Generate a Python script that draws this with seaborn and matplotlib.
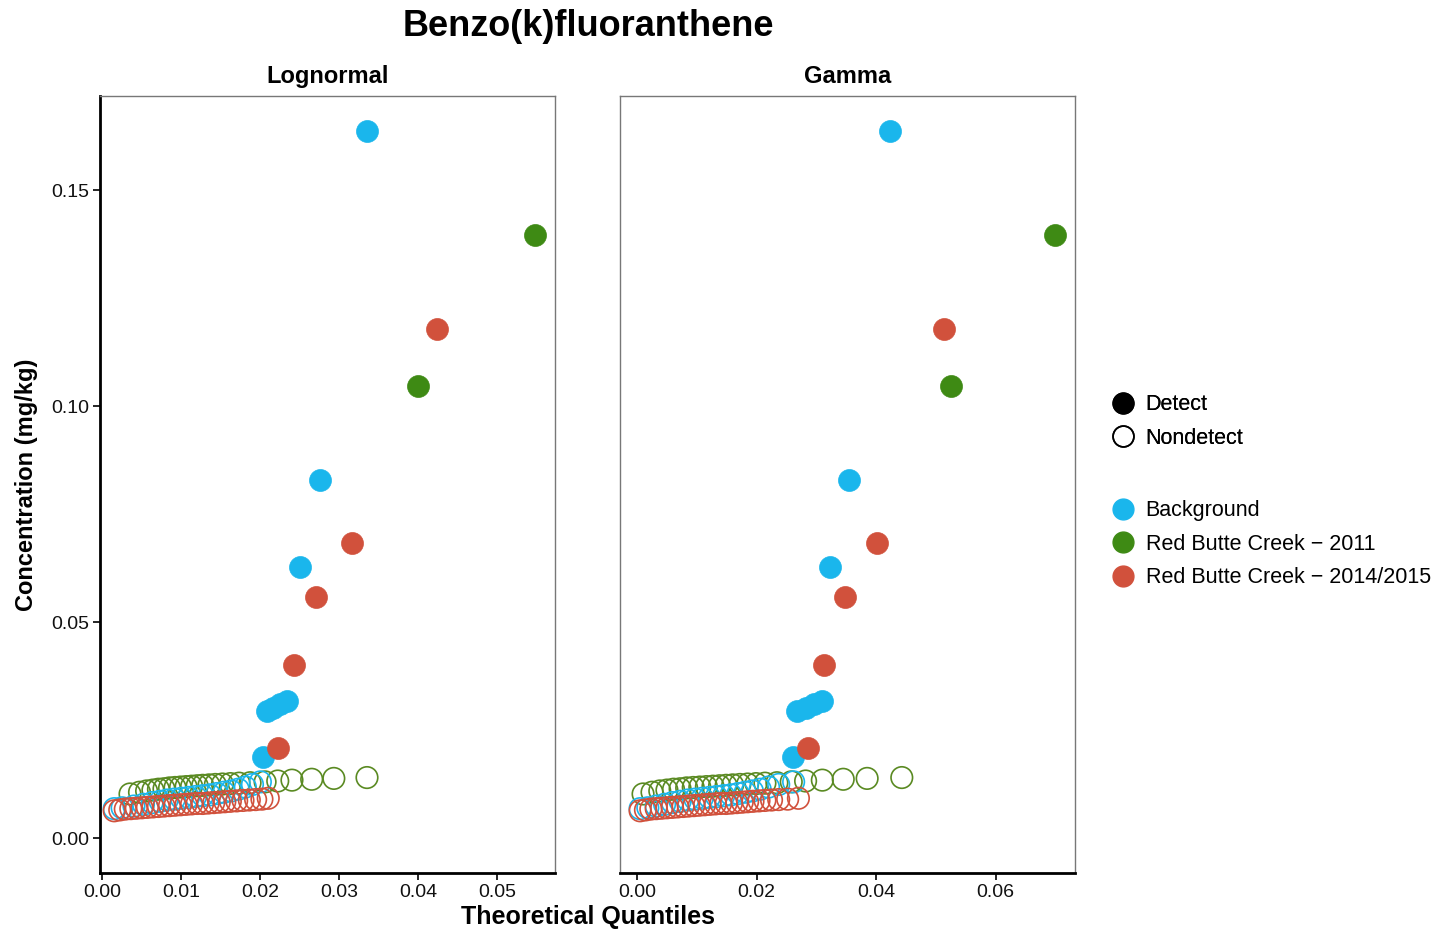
import matplotlib
matplotlib.use("Agg")
import matplotlib.pyplot as plt
from matplotlib.lines import Line2D
import numpy as np
import pandas as pd
import seaborn as sns

# ---- data -------------------------------------------------------------
groups = ["Background", "Red Butte Creek \u2212 2011", "Red Butte Creek \u2212 2014/2015"]
colors = {"Background": "#1AB6EC",
          "Red Butte Creek \u2212 2011": "#3E8A14",
          "Red Butte Creek \u2212 2014/2015": "#D1513C"}
open_edge = {"Background": "#1AB6EC",
             "Red Butte Creek \u2212 2011": "#5A8A22",
             "Red Butte Creek \u2212 2014/2015": "#D1513C"}

# Background
bg_det_conc = [0.0188, 0.0295, 0.0302, 0.0310, 0.0318, 0.0627, 0.0829, 0.1637]
bg_det_logn = [0.0203, 0.0208, 0.0216, 0.0225, 0.0234, 0.0250, 0.0276, 0.0335]
bg_det_gam = [0.0261, 0.0268, 0.0282, 0.0296, 0.0310, 0.0323, 0.0355, 0.0423]
bg_nd_conc = [0.0068, 0.0070, 0.0074, 0.0078, 0.0082, 0.0085, 0.0088, 0.0090, 0.0092, 0.0094,
              0.0096, 0.0098, 0.0100, 0.0103, 0.0106, 0.0109, 0.0113, 0.0118, 0.0124, 0.0130]
bg_nd_logn = [0.0015, 0.0025, 0.0040, 0.0052, 0.0063, 0.0073, 0.0082, 0.0091, 0.0100, 0.0109,
              0.0118, 0.0127, 0.0136, 0.0145, 0.0154, 0.0163, 0.0172, 0.0181, 0.0190, 0.0200]
bg_nd_gam = [0.0005, 0.0018, 0.0032, 0.0046, 0.0059, 0.0072, 0.0085, 0.0097, 0.0109, 0.0121,
             0.0133, 0.0145, 0.0157, 0.0169, 0.0181, 0.0193, 0.0206, 0.0220, 0.0237, 0.0262]

# Red Butte Creek - 2011
rb11_det_conc = [0.1046, 0.1396]
rb11_det_logn = [0.0399, 0.0548]
rb11_det_gam = [0.0526, 0.0700]
rb11_nd_conc = [0.0102, 0.0106, 0.0109, 0.0111, 0.0113, 0.0114, 0.0116, 0.0117, 0.0118, 0.0119,
                0.0120, 0.0121, 0.0122, 0.0123, 0.0124, 0.0125, 0.0126, 0.0127, 0.0128, 0.0130,
                0.0132, 0.0134, 0.0136, 0.0138, 0.0140]
rb11_nd_logn = [0.0035, 0.0047, 0.0056, 0.0064, 0.0071, 0.0078, 0.0085, 0.0092, 0.0099, 0.0106,
                0.0113, 0.0120, 0.0127, 0.0135, 0.0143, 0.0152, 0.0162, 0.0173, 0.0187, 0.0206,
                0.0222, 0.0240, 0.0265, 0.0293, 0.0335]
rb11_nd_gam = [0.0010, 0.0025, 0.0038, 0.0050, 0.0061, 0.0072, 0.0083, 0.0094, 0.0105, 0.0116,
               0.0127, 0.0138, 0.0149, 0.0160, 0.0172, 0.0185, 0.0199, 0.0214, 0.0234, 0.0258,
               0.0282, 0.0310, 0.0345, 0.0385, 0.0443]

# Red Butte Creek - 2014/2015
rb14_det_conc = [0.0208, 0.0400, 0.0558, 0.0683, 0.1178]
rb14_det_logn = [0.0222, 0.0242, 0.0271, 0.0316, 0.0424]
rb14_det_gam = [0.0286, 0.0313, 0.0348, 0.0402, 0.0514]
rb14_nd_conc = [0.0063, 0.0065, 0.0067, 0.0068, 0.0069, 0.0070, 0.0071, 0.0072, 0.0073, 0.0074,
                0.0075, 0.0076, 0.0077, 0.0078, 0.0079, 0.0080, 0.0080, 0.0081, 0.0082, 0.0083,
                0.0084, 0.0085, 0.0086, 0.0087, 0.0088, 0.0089, 0.0090, 0.0092]
rb14_nd_logn = [0.0015, 0.0022, 0.0029, 0.0036, 0.0043, 0.0050, 0.0057, 0.0064, 0.0071, 0.0078,
                0.0085, 0.0092, 0.0099, 0.0106, 0.0113, 0.0120, 0.0127, 0.0134, 0.0141, 0.0148,
                0.0155, 0.0162, 0.0170, 0.0178, 0.0186, 0.0194, 0.0202, 0.0210]
rb14_nd_gam = [0.0005, 0.0014, 0.0023, 0.0032, 0.0041, 0.0050, 0.0059, 0.0068, 0.0077, 0.0086,
               0.0095, 0.0104, 0.0113, 0.0122, 0.0131, 0.0140, 0.0149, 0.0158, 0.0167, 0.0176,
               0.0185, 0.0194, 0.0204, 0.0214, 0.0225, 0.0237, 0.0252, 0.0270]

x_ticks_logn = [0.00, 0.01, 0.02, 0.03, 0.04, 0.05]
x_ticks_gam = [0.00, 0.02, 0.04, 0.06]
y_ticks = [0.00, 0.05, 0.10, 0.15]

# ---- assemble long table ---------------------------------------------
rows = []
def add(group, status, conc, logn, gam):
    for c, ql, qg in zip(conc, logn, gam):
        rows.append({"group": group, "status": status, "conc": c,
                     "Lognormal": ql, "Gamma": qg})

add(groups[1], "Nondetect", rb11_nd_conc, rb11_nd_logn, rb11_nd_gam)
add(groups[0], "Nondetect", bg_nd_conc, bg_nd_logn, bg_nd_gam)
add(groups[2], "Nondetect", rb14_nd_conc, rb14_nd_logn, rb14_nd_gam)
add(groups[1], "Detect", rb11_det_conc, rb11_det_logn, rb11_det_gam)
add(groups[0], "Detect", bg_det_conc, bg_det_logn, bg_det_gam)
add(groups[2], "Detect", rb14_det_conc, rb14_det_logn, rb14_det_gam)
df = pd.DataFrame(rows)

# ---- figure ------------------------------------------------------------
sns.set_theme(style="white")
plt.rcParams["font.family"] = ["Liberation Sans", "DejaVu Sans"]
plt.rcParams["text.color"] = "black"
narrow = ["Liberation Sans Narrow", "Liberation Sans", "DejaVu Sans"]

fig = plt.figure(figsize=(14.45, 9.31), dpi=100)
ax_l = fig.add_axes([0.0692, 0.0623, 0.3149, 0.8346])
ax_r = fig.add_axes([0.4291, 0.0623, 0.3149, 0.8346])

S_DET = 250
S_ND = 240
plot_order = [groups[1], groups[0], groups[2]]

for ax, dist, xlim, xt in [(ax_l, "Lognormal", (-0.0003, 0.0573), x_ticks_logn),
                           (ax_r, "Gamma", (-0.00285, 0.0733), x_ticks_gam)]:
    for g in plot_order:
        sub = df[(df.group == g) & (df.status == "Nondetect")]
        sns.scatterplot(x=sub[dist], y=sub["conc"], ax=ax, s=S_ND, marker="o",
                        facecolors="none", edgecolor=open_edge[g], linewidth=1.2,
                        legend=False, zorder=2)
    for g in plot_order:
        sub = df[(df.group == g) & (df.status == "Detect")]
        sns.scatterplot(x=sub[dist], y=sub["conc"], ax=ax, s=S_DET, marker="o",
                        color=colors[g], edgecolor=colors[g], linewidth=0.5,
                        legend=False, zorder=3)
    ax.set_xlim(*xlim)
    ax.set_ylim(-0.0081, 0.1718)
    ax.set_xticks(xt)
    ax.set_xticklabels([f"{v:.2f}" for v in xt])
    ax.set_xlabel("")
    ax.set_ylabel("")
    ax.set_title(dist, fontsize=17, fontweight="bold", pad=9, color="black")
    ax.tick_params(axis="x", direction="out", length=5, width=1.2, colors="black",
                   labelsize=14, labelcolor="#111111", pad=3, bottom=True)
    for s in ["top", "right", "left"]:
        ax.spines[s].set_color("#777777")
        ax.spines[s].set_linewidth(1.0)
    ax.spines["bottom"].set_color("black")
    ax.spines["bottom"].set_linewidth(2.0)

ax_l.set_yticks(y_ticks)
ax_l.set_yticklabels([f"{v:.2f}" for v in y_ticks])
ax_l.tick_params(axis="y", direction="out", length=5, width=1.2, colors="black",
                 labelsize=14, labelcolor="#111111", pad=3, left=True)
ax_l.spines["left"].set_color("black")
ax_l.spines["left"].set_linewidth(2.0)
ax_r.set_yticks(y_ticks)
ax_r.tick_params(axis="y", left=False, labelleft=False)

fig.text(0.407, 0.971, "Benzo(k)fluoranthene", ha="center", va="center",
         fontsize=26, fontweight="bold", family=narrow, color="black")
fig.text(0.407, 0.015, "Theoretical Quantiles", ha="center", va="center",
         fontsize=18, fontweight="bold", family=narrow, color="black")
fig.text(0.018, 0.479, "Concentration (mg/kg)", ha="center", va="center",
         rotation=90, fontsize=17, fontweight="bold", family=narrow, color="black")

# ---- legends -------------------------------------------------------------
shape_handles = [
    Line2D([], [], marker="o", linestyle="none", markersize=15,
           markerfacecolor="black", markeredgecolor="black"),
    Line2D([], [], marker="o", linestyle="none", markersize=15,
           markerfacecolor="none", markeredgecolor="black", markeredgewidth=1.2),
]
leg1 = fig.legend(shape_handles, ["Detect", "Nondetect"], loc="upper left",
                  bbox_to_anchor=(0.763, 0.586), frameon=False, fontsize=15.5,
                  handletextpad=0.5, labelspacing=0.58, handlelength=1.1,
                  borderaxespad=0)
color_handles = [Line2D([], [], marker="o", linestyle="none", markersize=15,
                        markerfacecolor=colors[g], markeredgecolor=colors[g])
                 for g in groups]
leg2 = fig.legend(color_handles, groups, loc="upper left",
                  bbox_to_anchor=(0.763, 0.472), frameon=False, fontsize=15.5,
                  handletextpad=0.5, labelspacing=0.58, handlelength=1.1,
                  borderaxespad=0)
fig.add_artist(leg1)

fig.savefig("out.png", dpi=100, facecolor="white")
